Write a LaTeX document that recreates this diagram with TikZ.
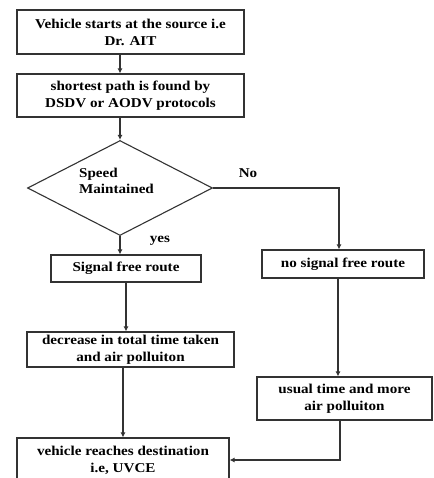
\documentclass[tikz,border=0pt]{standalone}
\usepackage{fontspec}
\setmainfont{Liberation Serif}[FakeStretch=1.12]
\usetikzlibrary{shapes.geometric,arrows.meta}

\tikzset{
  flowbox/.style={draw=black!80,line width=1.1pt,inner sep=0pt,align=center,
    font=\bfseries\fontsize{13.5}{17}\selectfont},
  flowline/.style={draw=black!80,line width=1.1pt,-{Latex[length=5pt,width=5pt]}},
  flowlabel/.style={font=\bfseries\fontsize{13.5}{16}\selectfont}
}

\begin{document}
\begin{tikzpicture}[x=1pt,y=-1pt]
\clip (0,0) rectangle (433,478);
\useasboundingbox (0,0) rectangle (433,478);
\node [flowbox,minimum width=227pt,minimum height=44pt] (start) at (130.5,32)
  {Vehicle starts at the source i.e\\Dr. AIT};
\node [flowbox,minimum width=227pt,minimum height=43pt] (path) at (130.5,95.5)
  {shortest path is found by\\DSDV or AODV protocols};
\node [diamond,draw=black!80,line width=1.1pt,inner sep=0pt,aspect=1.95,
  minimum width=185pt,minimum height=95pt] (speed) at (120,188) {};
\node [flowlabel,align=left] (speedtext) at (116.5,181) {Speed\\Maintained};
\node [flowbox,minimum width=150pt,minimum height=27pt] (free) at (126,268.5)
  {Signal free route};
\node [flowbox,minimum width=162pt,minimum height=28pt] (nofree) at (343,264)
  {no signal free route};
\node [flowbox,minimum width=207pt,minimum height=35pt] (less) at (130.5,349.5)
  {decrease in total time taken\\and air polluiton};
\node [flowbox,minimum width=175pt,minimum height=43pt] (usual) at (344.5,398.5)
  {usual time and more\\air polluiton};
\node [flowbox,minimum width=212pt,minimum height=44pt] (dest) at (123,460)
  {vehicle reaches destination\\i.e, UVCE};
\node [flowlabel] (no) at (248,173) {No};
\node [flowlabel] (yes) at (160,241) {yes};

\draw [flowline] (start.south -| speed) -- (path.north -| speed);
\draw [flowline] (path.south -| speed) -- (speed.north);
\draw [flowline] (speed.south) -- (speed.south |- free.north);
\draw [flowline] (speed.east) -| ([xshift=-4pt]nofree.north);
\draw [flowline] (free.south) -- (free.south |- less.north);
\draw [flowline] ([xshift=-5pt]nofree.south) -- ([xshift=-5pt]nofree.south |- usual.north);
\draw [flowline] (dest.north |- less.south) -- (dest.north);
\draw [flowline] ([xshift=-4.5pt]usual.south) |- (dest.east);
\end{tikzpicture}
\end{document}
